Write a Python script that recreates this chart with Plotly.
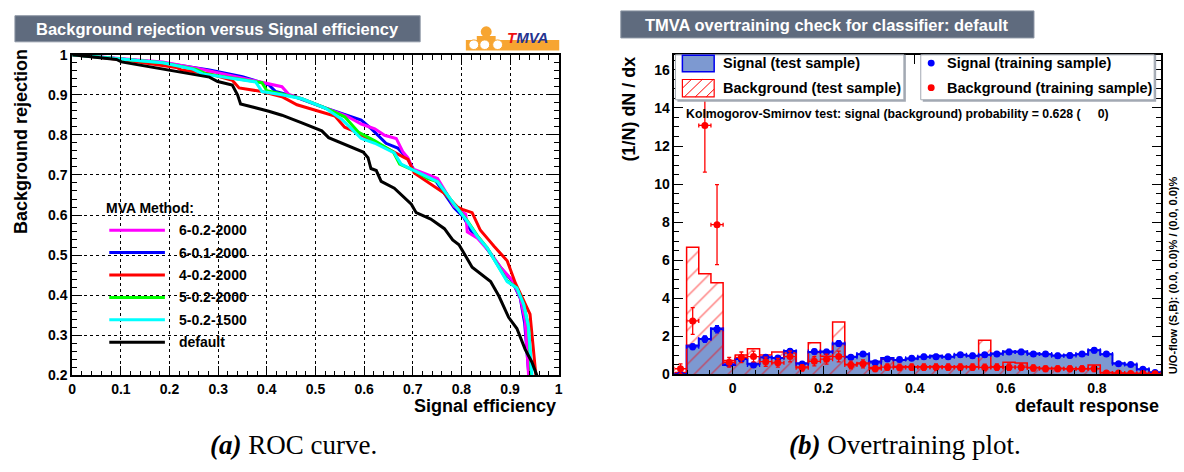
import numpy as np
import plotly.graph_objects as go

W, H = 1184, 472

# ---------------- ROC curves: signal efficiency vs background rejection ----------------
methods = ["6-0.2-2000", "6-0.1-2000", "4-0.2-2000", "5-0.2-2000", "5-0.2-1500", "default"]
colors = ["#ff00ff", "#0000ff", "#ff0000", "#00ff00", "#00ffff", "#000000"]

eff_6_02_2000 = [0, 0.05, 0.10, 0.186, 0.261, 0.322, 0.404, 0.431, 0.445, 0.472, 0.520, 0.564, 0.594,
                 0.622, 0.642, 0.666, 0.680, 0.690, 0.700, 0.751, 0.771, 0.785, 0.809, 0.812, 0.833,
                 0.860, 0.880, 0.904, 0.921, 0.931, 0.938, 0.940]
rej_6_02_2000 = [1, 0.995, 0.990, 0.982, 0.965, 0.949, 0.928, 0.920, 0.901, 0.890, 0.867, 0.847, 0.827,
                 0.815, 0.799, 0.791, 0.757, 0.743, 0.715, 0.691, 0.651, 0.622, 0.602, 0.558, 0.542,
                 0.505, 0.470, 0.438, 0.394, 0.337, 0.200, 0.150]

eff_6_01_2000 = [0, 0.10, 0.186, 0.282, 0.350, 0.404, 0.418, 0.458, 0.520, 0.594, 0.615, 0.645, 0.669,
                 0.690, 0.703, 0.744, 0.765, 0.785, 0.805, 0.819, 0.839, 0.880, 0.904, 0.921, 0.930,
                 0.940, 0.942]
rej_6_01_2000 = [1, 0.990, 0.980, 0.962, 0.945, 0.925, 0.908, 0.895, 0.867, 0.837, 0.815, 0.779, 0.767,
                 0.739, 0.711, 0.691, 0.654, 0.618, 0.594, 0.562, 0.538, 0.470, 0.436, 0.392, 0.330,
                 0.200, 0.150]

eff_4_02_2000 = [0, 0.10, 0.214, 0.224, 0.282, 0.329, 0.343, 0.390, 0.431, 0.462, 0.540, 0.560, 0.578,
                 0.608, 0.649, 0.690, 0.703, 0.724, 0.731, 0.765, 0.792, 0.802, 0.822, 0.839, 0.856,
                 0.867, 0.894, 0.911, 0.941, 0.947, 0.955, 0.957]
rej_4_02_2000 = [1, 0.988, 0.968, 0.962, 0.952, 0.936, 0.917, 0.908, 0.895, 0.875, 0.847, 0.819, 0.810,
                 0.791, 0.763, 0.739, 0.705, 0.688, 0.683, 0.654, 0.620, 0.614, 0.606, 0.562, 0.538,
                 0.522, 0.486, 0.430, 0.353, 0.281, 0.200, 0.150]

eff_5_02_2000 = [0, 0.10, 0.186, 0.255, 0.275, 0.390, 0.400, 0.431, 0.472, 0.520, 0.560, 0.588, 0.622,
                 0.660, 0.673, 0.703, 0.731, 0.751, 0.785, 0.812, 0.833, 0.853, 0.894, 0.914, 0.928,
                 0.938, 0.944, 0.946]
rej_5_02_2000 = [1, 0.990, 0.980, 0.963, 0.952, 0.930, 0.910, 0.902, 0.890, 0.867, 0.845, 0.807, 0.785,
                 0.757, 0.727, 0.711, 0.691, 0.683, 0.627, 0.586, 0.548, 0.518, 0.436, 0.418, 0.377,
                 0.321, 0.200, 0.150]

eff_5_02_1500 = [0, 0.10, 0.186, 0.248, 0.268, 0.377, 0.390, 0.431, 0.472, 0.520, 0.554, 0.594, 0.622,
                 0.662, 0.676, 0.703, 0.751, 0.785, 0.812, 0.833, 0.853, 0.894, 0.914, 0.928, 0.938,
                 0.945, 0.947]
rej_5_02_1500 = [1, 0.990, 0.980, 0.964, 0.952, 0.932, 0.908, 0.900, 0.890, 0.867, 0.839, 0.791, 0.779,
                 0.755, 0.727, 0.711, 0.683, 0.627, 0.584, 0.546, 0.518, 0.434, 0.418, 0.377, 0.321,
                 0.200, 0.150]

eff_default = [0, 0.091, 0.101, 0.200, 0.282, 0.299, 0.329, 0.340, 0.346, 0.404, 0.431, 0.472, 0.513,
               0.527, 0.598, 0.608, 0.614, 0.625, 0.635, 0.662, 0.686, 0.697, 0.707, 0.737, 0.765,
               0.782, 0.795, 0.822, 0.860, 0.877, 0.897, 0.914, 0.931, 0.945, 0.955, 0.958]
rej_default = [1, 0.988, 0.982, 0.962, 0.944, 0.933, 0.924, 0.899, 0.877, 0.859, 0.849, 0.830, 0.810,
               0.793, 0.757, 0.743, 0.716, 0.711, 0.684, 0.667, 0.639, 0.627, 0.606, 0.590, 0.566,
               0.538, 0.526, 0.470, 0.434, 0.398, 0.345, 0.317, 0.265, 0.233, 0.200, 0.150]

roc_eff = [eff_6_02_2000, eff_6_01_2000, eff_4_02_2000, eff_5_02_2000, eff_5_02_1500, eff_default]
roc_rej = [rej_6_02_2000, rej_6_01_2000, rej_4_02_2000, rej_5_02_2000, rej_5_02_1500, rej_default]
draw_order = [1, 0, 2, 3, 4, 5]

# ---------------- Overtraining check: classifier response histograms ----------------
n_bins = 40
x_lo, x_hi = -0.1276, 0.9411

sig_test = [0.03, 1.52, 1.86, 2.42, 0.50, 0.81, 0.56, 0.90, 0.86, 1.23,
            0.59, 1.18, 1.20, 1.62, 0.93, 1.06, 0.68, 0.86, 0.76, 0.83,
            0.93, 0.98, 0.93, 1.03, 0.98, 1.03, 1.10, 1.20, 1.20, 1.10,
            1.06, 1.00, 1.01, 1.06, 1.27, 1.06, 0.59, 0.52, 0.27, 0.12]
bkg_test = [0.10, 6.68, 5.29, 4.82, 0.73, 1.02, 1.35, 1.02, 1.18, 1.12,
            0.39, 1.66, 0.95, 2.76, 0.52, 0.60, 0.36, 0.80, 0.42, 0.40,
            0.40, 0.42, 0.40, 0.42, 0.40, 1.79, 0.40, 0.64, 0.60, 0.36,
            0.32, 0.32, 0.30, 0.30, 0.50, 0.10, 0.08, 0.06, 0.05, 0.04]
sig_train = [0.00, 1.45, 1.86, 2.37, 0.55, 0.80, 0.50, 0.90, 0.86, 1.22,
             0.55, 1.20, 1.18, 1.62, 0.90, 1.07, 0.61, 0.81, 0.78, 0.85,
             0.93, 0.93, 0.93, 1.03, 0.98, 1.03, 1.07, 1.18, 1.18, 1.07,
             1.07, 0.98, 1.00, 1.07, 1.27, 1.07, 0.56, 0.52, 0.27, 0.10]
bkg_train = [0.30, 2.81, 13.08, 7.87, 0.64, 0.90, 0.94, 0.67, 0.61, 0.94,
             0.35, 0.69, 0.80, 0.94, 0.50, 0.56, 0.30, 0.38, 0.37, 0.38,
             0.38, 0.38, 0.38, 0.38, 0.38, 0.37, 0.38, 0.38, 0.38, 0.34,
             0.30, 0.30, 0.30, 0.30, 0.30, 0.08, 0.07, 0.05, 0.05, 0.03]
sig_train_err = [0.05, 0.15, 0.17, 0.19, 0.09, 0.11, 0.09, 0.12, 0.11, 0.13,
                 0.09, 0.13, 0.13, 0.15, 0.11, 0.12, 0.09, 0.11, 0.11, 0.11,
                 0.12, 0.12, 0.12, 0.12, 0.12, 0.12, 0.12, 0.13, 0.13, 0.12,
                 0.12, 0.12, 0.12, 0.12, 0.13, 0.12, 0.09, 0.09, 0.06, 0.04]
bkg_train_err = [0.25, 0.70, 2.45, 2.10, 0.25, 0.28, 0.28, 0.24, 0.23, 0.28,
                 0.17, 0.24, 0.26, 0.28, 0.20, 0.21, 0.15, 0.17, 0.17, 0.17,
                 0.17, 0.17, 0.17, 0.17, 0.17, 0.17, 0.17, 0.17, 0.17, 0.16,
                 0.15, 0.15, 0.15, 0.15, 0.15, 0.08, 0.07, 0.06, 0.06, 0.04]

edges = np.linspace(x_lo, x_hi, n_bins + 1)
centers = 0.5 * (edges[:-1] + edges[1:])
half_w = [0.5 * (edges[1] - edges[0])] * n_bins

FONT = "Liberation Sans, Arial, Helvetica, sans-serif"
SERIF = "Liberation Serif, Times New Roman, serif"


def px(x):
    return x / W


def py(y):
    return 1 - y / H


def step(vals):
    xs = np.concatenate([[edges[0]], edges[:-1], [edges[-1], edges[-1]]])
    ys = np.concatenate([[0.0], vals, [vals[-1], 0.0]])
    return xs, ys


fig = go.Figure()

# ROC curves
for i in draw_order:
    fig.add_trace(go.Scatter(x=roc_eff[i], y=roc_rej[i], mode="lines", name=methods[i],
                             line=dict(color=colors[i], width=3), xaxis="x", yaxis="y"))

# signal test sample: filled histogram
xs, ys = step(sig_test)
fig.add_trace(go.Scatter(x=xs, y=ys, mode="lines", line_shape="hv", fill="tozeroy",
                         fillcolor="#7d99d1", line=dict(color="#0000ee", width=2),
                         name="Signal (test sample)", xaxis="x2", yaxis="y2"))
# background test sample: hatched histogram
xs, ys = step(bkg_test)
fig.add_trace(go.Scatter(x=xs, y=ys, mode="lines", line_shape="hv", fill="tozeroy",
                         fillcolor="rgba(0,0,0,0)",
                         fillpattern=dict(shape="/", fgcolor="#ff0000", bgcolor="rgba(0,0,0,0)",
                                          size=12, solidity=0.12),
                         line=dict(color="#ff0000", width=1.5),
                         name="Background (test sample)", xaxis="x2", yaxis="y2"))
# training samples: points with error bars
for vals, errs, col, name in [(sig_train, sig_train_err, "#0000ff", "Signal (training sample)"),
                              (bkg_train, bkg_train_err, "#ff0000", "Background (training sample)")]:
    fig.add_trace(go.Scatter(x=centers, y=vals, mode="markers", name=name,
                             marker=dict(color=col, size=7),
                             error_y=dict(type="data", array=errs, color=col, thickness=1.3, width=2),
                             error_x=dict(type="data", array=half_w, color=col, thickness=1.3, width=2),
                             xaxis="x2", yaxis="y2"))

tickfont = dict(family=FONT, size=14, color="black", weight="bold")
axis_common = dict(showline=True, linecolor="black", linewidth=1.8, mirror="ticks",
                   ticks="inside", tickcolor="black", tickwidth=1, tickfont=tickfont,
                   zeroline=False, layer="above traces")

fig.update_layout(
    width=W, height=H, margin=dict(l=0, r=0, t=0, b=0),
    paper_bgcolor="white", plot_bgcolor="white", showlegend=False,
    xaxis=dict(domain=[px(68.7), px(558.5)], range=[0, 1], tick0=0, dtick=0.1, ticklen=10,
               showgrid=True, gridcolor="black", griddash="dot", gridwidth=1,
               minor=dict(ticks="inside", dtick=0.02, ticklen=5, tickcolor="black", showgrid=False),
               anchor="y", **axis_common),
    yaxis=dict(domain=[py(380.3), py(48.3)], range=[0.2, 1], tick0=0, dtick=0.1, ticklen=10,
               showgrid=True, gridcolor="black", griddash="dot", gridwidth=1,
               minor=dict(ticks="inside", dtick=0.02, ticklen=5, tickcolor="black", showgrid=False),
               anchor="x", **axis_common),
    xaxis2=dict(domain=[px(675), px(1165)], range=[x_lo, x_hi], tick0=0, dtick=0.2, ticklen=9,
                showgrid=False,
                minor=dict(ticks="inside", dtick=0.05, ticklen=5, tickcolor="black", showgrid=False),
                anchor="y2", **axis_common),
    yaxis2=dict(domain=[py(379.3), py(48.3)], range=[0, 16.8], tick0=0, dtick=2, ticklen=9,
                showgrid=False,
                minor=dict(ticks="inside", dtick=0.5, ticklen=5, tickcolor="black", showgrid=False),
                anchor="x2", **axis_common),
)

shapes = []
ann = []


def text(x, y, s, size=14, xanchor="left", yanchor="middle", color="black", angle=0,
         family=FONT, bold=True):
    ann.append(dict(x=px(x), y=py(y), xref="paper", yref="paper", text=s, showarrow=False,
                    xanchor=xanchor, yanchor=yanchor, textangle=angle,
                    font=dict(family=family, size=size, color=color,
                              weight="bold" if bold else "normal")))


def rect(x0, x1, y0, y1, fill, line_color=None, line_width=0):
    shapes.append(dict(type="rect", xref="paper", yref="paper", x0=px(x0), x1=px(x1),
                       y0=py(y1), y1=py(y0), fillcolor=fill,
                       line=dict(color=line_color or fill, width=line_width), layer="above"))


# title boxes
for x0, x1, y0, y1, s in [(11, 419, 8, 35, "Background rejection versus Signal efficiency"),
                          (621, 1037, 3, 31, "TMVA overtraining check for classifier: default")]:
    rect(x0, x1, y0, y1, "#5f6b7e", "#8e97a5", 1)
    text((x0 + x1) / 2, (y0 + y1) / 2 + 0.5, s, size=16.5, xanchor="center", color="white")

# TMVA logo
rect(465, 559, 33, 44, "#f7a531")
shapes.append(dict(type="circle", xref="paper", yref="paper", x0=px(480), x1=px(491),
                   y0=py(30), y1=py(19), fillcolor="#f7a531", line=dict(width=0), layer="above"))
rect(476, 495, 29, 36, "#f7a531")
for cx in (473, 484, 497):
    shapes.append(dict(type="circle", xref="paper", yref="paper", x0=px(cx - 5), x1=px(cx + 5),
                       y0=py(43), y1=py(33), fillcolor="white", line=dict(color="#f7a531", width=1),
                       layer="above"))
text(527, 31, "<i><span style='color:#ee1111'>T</span><span style='color:#25338f'>MVA</span></i>",
     size=15, xanchor="center")

# ROC axis titles
text(17, 40, "Background rejection", size=18, xanchor="center", yanchor="top", angle=-90)
text(558, 412, "Signal efficiency", size=18, xanchor="right")

# ROC legend
text(101, 207, "MVA Method:", size=14)
for k in range(6):
    yk = 230 + 23.2 * k
    shapes.append(dict(type="line", xref="paper", yref="paper", x0=px(106), x1=px(162),
                       y0=py(yk), y1=py(yk), line=dict(color=colors[k], width=3), layer="above"))
    text(174, yk, methods[k], size=14)

# overtraining axis titles and notes
text(629, 48, "(1/N) dN / dx", size=18, xanchor="center", yanchor="top", angle=-90)
text(1165, 412, "default response", size=18, xanchor="right")
text(1177, 381, "U/O-flow (S,B): (0.0, 0.0)% / (0.0, 0.0)%", size=11, xanchor="center",
     yanchor="bottom", angle=-90)

# overtraining legends (white boxes with a grey drop shadow)
for x0, x1 in [(676, 906), (923, 1158)]:
    rect(x0 + 2, x1 + 2, 48.5, 97, "#a3a9b3")
    rect(x0, x1, 48.5, 95, "white", "#a3a9b3", 1)
rect(683, 715, 49, 66, "#7d99d1", "#0000ee", 1.5)
rect(683, 715, 74, 92, "rgba(0,0,0,0)", "#ff0000", 1.2)
# hatch lines inside the background key
bx0, bx1, by0, by1 = 683, 715, 74, 92
for s in range(-20, 40, 11):
    xa, ya = bx0 + s, by1
    xb, yb = bx0 + s + (by1 - by0), by0
    if xa < bx0:
        ya -= bx0 - xa
        xa = bx0
    if xb > bx1:
        yb += xb - bx1
        xb = bx1
    if xa < xb:
        shapes.append(dict(type="line", xref="paper", yref="paper", x0=px(xa), x1=px(xb),
                           y0=py(ya), y1=py(yb), line=dict(color="#ff0000", width=1), layer="above"))
for yk, col in [(57, "#0000ff"), (82.5, "#ff0000")]:
    shapes.append(dict(type="circle", xref="paper", yref="paper", x0=px(930), x1=px(937),
                       y0=py(yk + 3.5), y1=py(yk - 3.5), fillcolor=col, line=dict(width=0),
                       layer="above"))
text(722, 57, "Signal (test sample)", size=14.5)
text(722, 82.5, "Background (test sample)", size=14.5)
text(947, 57, "Signal (training sample)", size=14.5)
text(947, 82.5, "Background (training sample)", size=14.5)
text(685, 109.5, "Kolmogorov-Smirnov test: signal (background) probability = 0.628 (\u00a0\u00a0\u00a0\u00a0\u00a00)",
     size=12.3)

# captions
text(291, 452, "<b><i>(a)</i></b> ROC curve.", size=27, xanchor="center", family=SERIF, bold=False)
text(907, 452, "<b><i>(b)</i></b> Overtraining plot.", size=27, xanchor="center", family=SERIF,
     bold=False)

fig.update_layout(shapes=shapes, annotations=ann)
fig.write_html("out.html")
